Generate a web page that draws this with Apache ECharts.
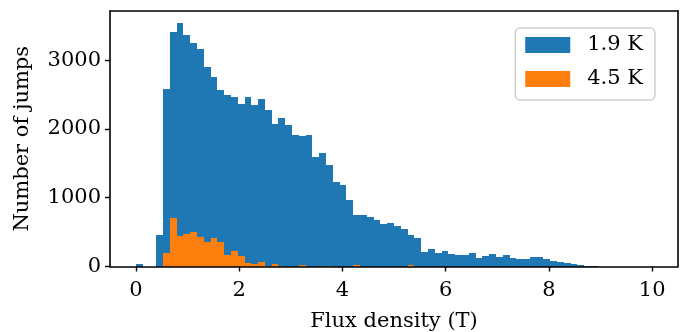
<!DOCTYPE html>
<html>
<head>
<meta charset="utf-8">
<script src="https://cdn.jsdelivr.net/npm/echarts@6/dist/echarts.min.js"></script>
<style>
  html, body { margin: 0; padding: 0; background: #fff; }
  #chart { width: 684px; height: 332px; }
</style>
</head>
<body>
<div id="chart"></div>
<script>
// histogram: 76 bins of equal width between 0 and 10 T
var binStart = 0;
var binEnd = 10;
var binCount = 76;

var counts19K = [
  41, 0, 0, 465, 2578, 3412, 3535, 3370, 3246, 3155,
  2895, 2752, 2572, 2495, 2466, 2360, 2459, 2352, 2437, 2272,
  2078, 2156, 2059, 1907, 1892, 1904, 1596, 1645, 1470, 1230,
  1185, 960, 744, 751, 720, 674, 613, 630, 591, 540,
  465, 410, 211, 250, 201, 221, 186, 163, 167, 203,
  119, 148, 182, 134, 167, 124, 114, 114, 138, 138,
  114, 80, 65, 46, 32, 26, 12, 3, 0, 0,
  0, 0, 0, 0, 0, 0
];

var counts45K = [
  0, 0, 0, 0, 194, 705, 448, 470, 499, 424,
  361, 410, 353, 172, 232, 148, 48, 34, 67, 12,
  34, 10, 0, 0, 15, 0, 0, 0, 12, 0,
  0, 0, 20, 0, 0, 0, 0, 0, 0, 0,
  15, 0, 0, 0, 0, 0, 0, 0, 0, 0,
  0, 0, 0, 0, 0, 0, 0, 0, 0, 0,
  0, 0, 0, 0, 0, 0, 0, 0, 0, 0,
  0, 0, 0, 0, 0, 0
];

var xTicks = [0, 2, 4, 6, 8, 10];
var yTicks = [0, 1000, 2000, 3000];

var FONT = 'DejaVu Serif';
var FSIZE = 21;

function toBins(counts){
  var w = (binEnd - binStart) / binCount;
  var d = [];
  for (var i = 0; i < counts.length; i++) {
    d.push([binStart + i * w, binStart + (i + 1) * w, counts[i]]);
  }
  return d;
}

// snap to whole pixels so neighbouring bins meet without seams
function histItem(params, api){
  var p0 = api.coord([api.value(0), api.value(2)]);
  var p1 = api.coord([api.value(1), 0]);
  var x0 = Math.round(p0[0]), x1 = Math.round(p1[0]);
  var y0 = Math.round(p0[1]), y1 = Math.round(p1[1]);
  return {
    type: 'rect',
    shape: {x: x0, y: y0, width: x1 - x0, height: y1 - y0},
    style: {fill: api.visual('color'), stroke: null, lineWidth: 0}
  };
}

function plainNum(v){
  return String(v);
}

var chart = echarts.init(document.getElementById('chart'), null, {renderer: 'canvas'});

var tickStyle = {show: true, length: 5, inside: false, lineStyle: {color: '#000', width: 1.4}};
var labelStyle = {color: '#000', fontFamily: FONT, fontSize: FSIZE, formatter: plainNum};

option = {
  animation: false,
  backgroundColor: '#fff',
  grid: {left: 110, right: 6, top: 11, bottom: 65.5, show: false, containLabel: false, outerBoundsMode: 'none'},
  legend: {
    right: 29,
    top: 28,
    orient: 'vertical',
    icon: 'rect',
    itemWidth: 45,
    itemHeight: 16,
    itemGap: 10,
    padding: [5, 12, 9, 10],
    backgroundColor: '#fff',
    borderColor: '#d0d0d0',
    borderWidth: 1.5,
    borderRadius: 5,
    textStyle: {color: '#000', fontFamily: FONT, fontSize: FSIZE, lineHeight: 24, padding: [0, 0, 0, 12]},
    data: ['1.9 K', '4.5 K']
  },
  xAxis: [
    {
      type: 'value', min: -0.5, max: 10.5, z: 10,
      name: 'Flux density (T)', nameLocation: 'middle', nameGap: 45,
      nameTextStyle: {color: '#000', fontFamily: FONT, fontSize: FSIZE},
      axisLine: {show: true, onZero: false, lineStyle: {color: '#000', width: 1.6}},
      axisTick: Object.assign({customValues: xTicks}, tickStyle),
      axisLabel: Object.assign({customValues: xTicks, margin: 14}, labelStyle),
      splitLine: {show: false}
    },
    {
      type: 'value', position: 'top', min: -0.5, max: 10.5, z: 10,
      axisLine: {show: true, onZero: false, lineStyle: {color: '#000', width: 1.6}},
      axisTick: {show: false}, axisLabel: {show: false}, splitLine: {show: false}
    }
  ],
  yAxis: [
    {
      type: 'value', min: 0, max: 3713, z: 10,
      name: 'Number of jumps', nameLocation: 'middle', nameGap: 77, nameRotate: 90,
      nameTextStyle: {color: '#000', fontFamily: FONT, fontSize: FSIZE},
      axisLine: {show: true, onZero: false, lineStyle: {color: '#000', width: 1.6}},
      axisTick: Object.assign({customValues: yTicks}, tickStyle),
      axisLabel: Object.assign({customValues: yTicks, margin: 9}, labelStyle),
      splitLine: {show: false}
    },
    {
      type: 'value', position: 'right', min: 0, max: 3713, z: 10,
      axisLine: {show: true, onZero: false, lineStyle: {color: '#000', width: 1.6}},
      axisTick: {show: false}, axisLabel: {show: false}, splitLine: {show: false}
    }
  ],
  series: [
    {
      name: '1.9 K', type: 'custom', color: '#1f77b4',
      xAxisIndex: 0, yAxisIndex: 0,
      renderItem: histItem,
      encode: {x: [0, 1], y: 2},
      data: toBins(counts19K)
    },
    {
      name: '4.5 K', type: 'custom', color: '#ff7f0e',
      xAxisIndex: 0, yAxisIndex: 0,
      renderItem: histItem,
      encode: {x: [0, 1], y: 2},
      data: toBins(counts45K)
    }
  ]
};
chart.setOption(option);
</script>
</body>
</html>
